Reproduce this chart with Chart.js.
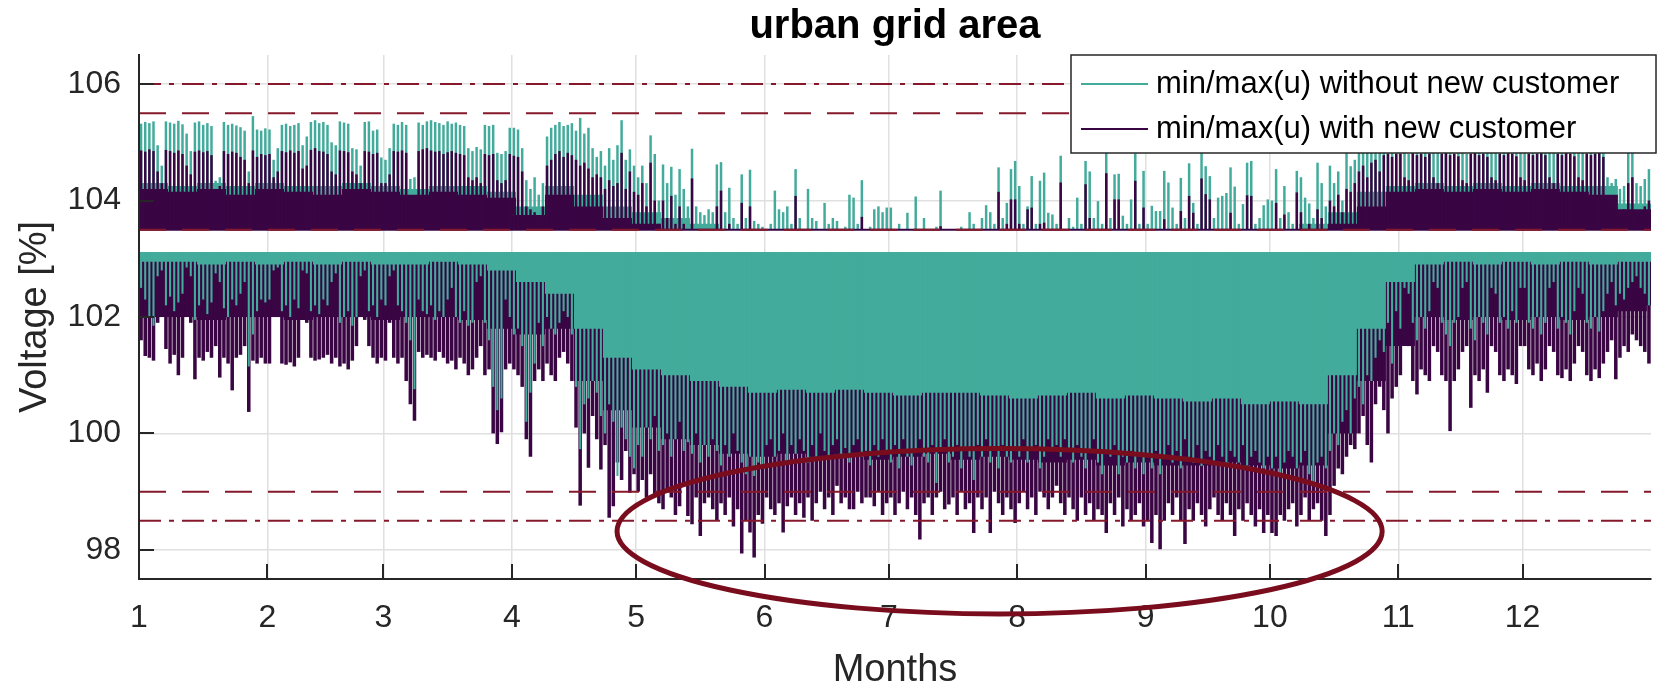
<!DOCTYPE html>
<html>
<head>
<meta charset="utf-8">
<title>urban grid area</title>
<script src="https://cdn.jsdelivr.net/npm/chart.js@4.4.1/dist/chart.umd.min.js"></script>
<style>
  html, body { margin: 0; padding: 0; background: #fff; }
  #chart { display: block; }
</style>
</head>
<body>
<canvas id="chart" width="1659" height="686"></canvas>
<script>
// x axis runs in days of the year (0..365), ticks at the first day of each month
const monthStartDays = [0, 31, 59, 90, 120, 151, 181, 212, 243, 273, 304, 334];
const monthTickLabels = ['1', '2', '3', '4', '5', '6', '7', '8', '9', '10', '11', '12'];
const voltageTicks = [98, 100, 102, 104, 106];

const seriesLabels = ['min/max(u) without new customer', 'min/max(u) with new customer'];

// night levels the daily spikes start from
const upperNightLevel = 103.5;
const lowerNightLevel = 103.1;

// voltage limits (dash-dot = hard limit, dashed = warning)
const hardLimits = [106, 98.5];
const warnLimits = [105.5, 99];
const setpointLevel = 103.5;

// daily max voltage without new customer (one value per day, Jan..Dec)
const maxWithout = [
  105.32, 105.35, 105.33, 105.36, 104.95, 104.6, 105.36, 105.34, 105.32, 105.37, 105.31, 105.15, 104.85, 105.34, 105.36, 105.3, 105.33, 105.28, 104.34, 104.4, 105.35, 105.3, 105.32, 105.29, 105.26, 105.2, 104.5, 105.45, 105.22, 105.2, 105.24,
  105.22, 104.7, 104.9, 105.3, 105.32, 105.28, 105.3, 105.33, 104.95, 105.1, 105.35, 105.38, 105.33, 105.35, 105.3, 105.0, 104.95, 105.36, 105.34, 105.32, 104.9, 104.88, 104.6, 105.35, 105.36, 105.2, 105.22, 104.74,
  104.7, 104.9, 105.32, 105.3, 105.35, 105.3, 104.37, 104.4, 105.34, 105.3, 105.36, 105.38, 105.35, 105.33, 105.3, 105.36, 105.32, 105.34, 105.3, 105.28, 104.9, 104.85, 104.92, 104.88, 105.3, 105.28, 105.3, 104.82, 104.8, 104.85, 105.25,
  105.25, 105.22, 104.9, 104.35, 104.2, 104.4, 104.1, 104.3, 105.1, 105.25, 105.3, 105.35, 105.28, 105.3, 105.33, 105.2, 105.42, 105.15, 105.25, 104.9, 104.75, 104.85, 104.6, 104.9, 104.7, 104.95, 105.38, 104.7, 104.88, 104.6,
  104.4, 104.6, 104.3, 105.12, 104.8, 104.0, 104.62, 104.3, 104.58, 104.1, 104.54, 104.2, 103.9, 104.89, 103.9, 103.8, 103.75, 103.85, 103.8, 104.62, 104.66, 103.8, 104.22, 103.7, 103.6, 104.45, 103.7, 104.53, 103.65, 103.6, 103.55,
  103.5, 103.6, 104.17, 103.85, 103.8, 103.9, 103.6, 104.54, 103.7, 103.5, 104.2, 103.7, 103.65, 103.5, 103.96, 103.6, 103.7, 103.65, 103.5, 103.55, 104.1, 104.05, 103.6, 104.35, 103.5, 103.55, 103.85, 103.9, 103.8, 103.88,
  103.88, 103.5, 103.6, 103.5, 103.79, 103.5, 104.07, 103.5, 103.7, 103.5, 103.5, 103.55, 104.17, 103.5, 103.5, 103.5, 103.5, 103.55, 103.5, 103.8, 103.6, 103.5, 103.7, 103.92, 103.8, 103.6, 104.57, 103.7, 103.96, 104.54, 104.68,
  104.25, 103.6, 103.9, 104.42, 103.6, 104.34, 104.48, 103.79, 103.76, 103.6, 104.77, 103.5, 103.7, 103.55, 104.05, 103.6, 104.68, 104.5, 103.7, 103.99, 103.6, 104.82, 103.7, 104.45, 104.46, 103.74, 103.6, 104.02, 104.81, 103.6, 104.51,
  103.6, 103.91, 103.82, 103.82, 104.51, 104.31, 103.88, 103.6, 104.39, 103.7, 104.64, 103.96, 103.6, 104.82, 104.59, 104.42, 103.7, 104.05, 104.08, 104.13, 104.57, 104.24, 103.6, 103.94, 104.65, 104.68, 103.6, 103.7, 103.92, 104.02,
  104.0, 104.54, 103.7, 104.25, 103.8, 103.6, 104.51, 104.4, 104.05, 103.95, 103.7, 104.65, 104.3, 103.9, 104.6, 104.3, 104.5, 104.0, 104.82, 104.59, 104.7, 104.95, 105.1, 104.9, 105.2, 105.25, 105.0, 105.3, 105.32, 105.28, 105.3,
  105.3, 104.9, 104.8, 105.32, 105.3, 105.35, 105.28, 105.3, 104.9, 104.85, 105.3, 105.33, 105.3, 105.35, 105.3, 104.95, 104.8, 105.3, 105.32, 105.28, 105.3, 105.35, 104.9, 104.85, 105.3, 105.33, 105.3, 105.28, 105.3, 104.9,
  104.85, 105.3, 105.32, 105.3, 105.35, 105.3, 104.9, 104.85, 105.3, 105.32, 105.3, 105.28, 105.3, 104.9, 104.85, 105.3, 105.33, 105.3, 105.3, 105.28, 104.4, 104.3, 104.37, 104.2, 104.25, 104.9, 105.0, 104.3, 104.25, 104.37, 104.54
];

// daily max voltage with new customer
const maxWith = [
  104.86, 104.84, 104.88, 104.85, 104.5, 104.3, 104.87, 104.85, 104.82, 104.86, 104.8, 104.6, 104.45, 104.84, 104.86, 104.83, 104.85, 104.78, 104.2, 104.25, 104.85, 104.8, 104.84, 104.82, 104.75, 104.7, 104.3, 104.86, 104.75, 104.8, 104.78,
  104.8, 104.4, 104.5, 104.85, 104.83, 104.86, 104.82, 104.85, 104.55, 104.6, 104.87, 104.9, 104.85, 104.84, 104.8, 104.5, 104.45, 104.86, 104.85, 104.83, 104.5, 104.45, 104.3, 104.85, 104.84, 104.8, 104.82, 104.3,
  104.3, 104.45, 104.85, 104.84, 104.86, 104.82, 104.0, 103.95, 104.85, 104.88, 104.9, 104.86, 104.84, 104.85, 104.8, 104.83, 104.85, 104.82, 104.8, 104.78, 104.4, 104.35, 104.4, 104.3, 104.8, 104.78, 104.8, 104.35, 104.3, 104.35, 104.8,
  104.77, 104.75, 104.5, 103.9, 103.85, 103.8, 103.75, 103.9, 104.6, 104.7, 104.8, 104.85, 104.75, 104.82, 104.78, 104.7, 104.6, 104.65, 104.55, 104.4, 104.45, 104.4, 104.2, 104.35, 104.25, 104.3, 104.82, 104.2, 104.5, 104.15,
  104.1, 104.3, 103.9, 104.65, 104.0, 103.6, 104.0, 103.7, 104.08, 103.6, 103.9, 103.6, 103.5, 104.38, 103.5, 103.5, 103.5, 103.5, 103.5, 103.9, 104.17, 103.5, 103.6, 103.5, 103.5, 103.96, 103.5, 103.9, 103.5, 103.5, 103.5,
  103.5, 103.5, 103.5, 103.5, 103.5, 103.5, 103.5, 104.08, 103.5, 103.5, 103.5, 103.5, 103.5, 103.5, 103.5, 103.5, 103.5, 103.5, 103.5, 103.5, 103.5, 103.5, 103.5, 103.72, 103.5, 103.5, 103.5, 103.5, 103.5, 103.5,
  103.5, 103.5, 103.5, 103.5, 103.5, 103.5, 103.5, 103.5, 103.5, 103.5, 103.5, 103.5, 103.56, 103.5, 103.5, 103.5, 103.5, 103.5, 103.5, 103.5, 103.5, 103.5, 103.5, 103.5, 103.5, 103.5, 104.15, 103.5, 103.6, 104.02, 104.02,
  103.6, 103.5, 103.85, 103.88, 103.5, 103.6, 103.62, 103.5, 103.5, 103.5, 104.31, 103.5, 103.5, 103.5, 103.5, 103.5, 104.28, 103.7, 103.5, 103.5, 103.5, 104.47, 103.5, 104.02, 104.02, 103.5, 103.5, 103.5, 104.34, 103.5, 103.88,
  103.5, 103.5, 103.5, 103.5, 103.68, 103.5, 103.5, 103.5, 103.82, 103.5, 104.08, 103.79, 103.5, 104.38, 104.11, 104.02, 103.5, 103.5, 103.5, 103.5, 103.79, 103.5, 103.5, 103.5, 104.09, 104.08, 103.5, 103.5, 103.5, 103.5,
  103.5, 103.96, 103.5, 103.76, 103.5, 103.5, 104.14, 103.8, 103.5, 103.6, 103.5, 103.85, 103.7, 103.5, 104.0, 103.9, 104.1, 103.8, 104.2, 104.15, 104.3, 104.5, 104.6, 104.4, 104.65, 104.7, 104.5, 104.78, 104.8, 104.75, 104.8,
  104.8, 104.4, 104.35, 104.82, 104.78, 104.8, 104.75, 104.8, 104.4, 104.3, 104.8, 104.82, 104.78, 104.8, 104.76, 104.35, 104.3, 104.8, 104.82, 104.78, 104.8, 104.75, 104.4, 104.35, 104.8, 104.78, 104.82, 104.8, 104.76, 104.4,
  104.35, 104.8, 104.78, 104.8, 104.82, 104.78, 104.4, 104.3, 104.8, 104.78, 104.82, 104.8, 104.76, 104.4, 104.35, 104.8, 104.78, 104.8, 104.82, 104.75, 103.9, 103.8, 104.0, 103.7, 103.85, 104.3, 104.4, 103.8, 103.75, 103.9, 104.0
];

// daily min voltage without new customer
const minWithout = [
  102.5, 102.3, 102.0, 101.85, 102.7, 102.8, 102.2, 102.35, 102.1, 102.25, 102.4, 102.85, 102.7, 101.95, 102.2, 102.3, 102.05, 102.25, 102.75, 102.6, 102.15, 102.0, 102.3, 102.2, 102.4, 102.6, 101.15, 101.7, 102.1, 102.3, 102.25,
  102.3, 102.8, 102.85, 102.1, 102.2, 102.0, 102.3, 102.15, 102.8, 102.75, 102.1, 102.2, 102.05, 102.3, 102.2, 102.6, 102.75, 101.9, 102.0, 102.1, 101.85, 102.0, 102.7, 102.8, 102.1, 102.2, 102.0, 102.3,
  102.2, 102.7, 102.8, 102.2, 102.1, 101.9, 101.6, 100.76, 102.3, 102.1, 102.05, 102.2, 101.95, 102.1, 102.0, 102.3, 102.5, 102.0, 101.9, 102.1, 101.85, 101.9, 102.6, 102.7, 101.9, 101.6, 100.8, 100.4, 100.6, 102.3, 102.0,
  101.7, 101.8, 101.5, 100.2, 100.7, 101.2, 101.9, 101.5, 102.0, 101.8, 101.7, 101.9, 102.1, 102.0, 101.7, 100.8, 99.73, 100.5, 100.6, 100.9, 100.7, 100.3, 100.0, 100.5, 100.2, 99.27, 100.1, 99.9, 99.6, 99.4,
  99.8, 99.6, 100.1, 99.9, 100.3, 99.7, 99.8, 100.0, 99.6, 99.9, 100.2, 99.7, 99.85, 99.65, 100.0, 99.5, 99.8, 99.6, 99.9, 99.7, 99.45, 99.8, 99.6, 100.0, 99.7, 99.5, 99.3, 99.6, 99.27, 99.5, 99.4,
  99.8, 99.9, 99.6, 99.7, 100.0, 99.5, 99.8, 99.65, 99.9, 99.7, 99.5, 99.8, 99.6, 100.0, 99.7, 99.55, 99.8, 99.9, 99.6, 99.75, 99.5, 99.8, 99.9, 99.6, 99.7, 99.45, 99.8, 99.6, 99.9, 99.7,
  99.5, 99.8, 99.4, 99.9, 99.6, 99.45, 99.7, 99.9, 99.6, 99.5, 99.8, 99.15, 99.7, 99.9, 99.5, 99.6, 99.8, 99.4, 99.7, 99.6, 99.2, 99.8, 99.6, 99.9, 99.5, 99.7, 99.4, 99.8, 99.6, 99.5, 99.7,
  99.6, 99.9, 99.5, 99.7, 99.8, 99.4, 99.6, 99.9, 99.7, 99.8, 99.6, 99.9, 99.7, 99.5, 99.8, 99.6, 99.4, 99.7, 99.9, 99.5, 99.3, 99.7, 99.6, 99.8, 99.3, 99.6, 99.5, 99.7, 99.4, 99.6, 99.3,
  99.6, 99.4, 99.7, 99.3, 99.6, 99.8, 99.5, 99.7, 99.4, 99.9, 99.6, 99.5, 99.8, 99.44, 99.7, 99.6, 99.5, 99.8, 99.6, 99.45, 99.7, 99.6, 99.5, 99.8, 99.45, 99.6, 99.7, 99.5, 99.4, 99.6,
  99.4, 99.6, 99.3, 99.5, 99.7, 99.6, 99.4, 99.5, 99.7, 99.3, 99.1, 99.5, 99.6, 99.4, 99.7, 100.0, 99.8, 100.2, 100.4, 100.0, 100.6, 100.8, 100.5, 101.0, 100.9, 101.3, 101.6, 101.4, 101.9, 101.2, 102.1,
  101.8, 102.5, 102.4, 101.9, 101.6, 102.0, 101.8, 102.1, 102.6, 102.5, 101.9, 101.7, 101.5, 101.9, 102.0, 102.5, 102.6, 101.8, 101.6, 102.0, 101.9, 101.7, 102.5, 102.4, 101.9, 102.0, 101.8, 102.1, 101.9, 102.5,
  102.5, 101.9, 101.8, 102.0, 101.7, 101.9, 102.5, 102.6, 101.8, 102.0, 101.9, 101.7, 102.1, 102.5, 102.4, 101.9, 101.8, 102.0, 101.75, 102.1, 102.4, 102.6, 102.2, 102.4, 102.3, 102.5, 102.6, 102.7, 102.5, 102.4, 102.2
];

// daily min voltage with new customer
const minWith = [
  101.6, 101.33, 101.3, 101.25, 101.9, 102.1, 101.45, 101.2, 101.35, 101.0, 101.3, 102.0, 101.9, 100.93, 101.3, 101.25, 101.4, 101.3, 101.5, 100.96, 101.3, 101.2, 100.74, 101.3, 101.35, 101.5, 100.37, 101.25, 101.2, 101.3, 101.2,
  101.2, 102.1, 102.0, 101.2, 101.18, 101.22, 101.15, 101.3, 102.05, 101.9, 101.3, 101.25, 101.27, 101.3, 101.35, 101.2, 101.3, 101.15, 101.2, 101.1, 101.25, 101.5, 102.0, 101.95, 101.5, 101.3, 101.2, 101.3,
  101.25, 101.9, 101.3, 101.2, 101.3, 100.9, 100.5, 100.22, 101.4, 101.3, 101.35, 101.3, 101.25, 101.4, 101.3, 101.2, 101.25, 101.1, 101.3, 101.2, 101.0, 101.1, 101.3, 101.5, 101.0, 101.1, 100.0, 99.82, 100.02, 101.1, 101.2,
  101.1, 101.0, 100.8, 99.9, 99.6, 100.9, 101.1, 100.9, 101.2, 101.0, 100.9, 101.3, 101.4, 101.2, 100.9, 100.1, 98.76, 100.0, 99.41, 100.3, 99.9, 99.38, 99.8, 98.55, 98.75, 99.5, 99.2, 99.7, 98.98, 99.3,
  99.0, 99.2, 98.9, 99.3, 98.95, 98.8, 98.7, 99.0, 98.9, 98.6, 98.75, 99.1, 98.58, 98.44, 98.9, 98.24, 98.8, 98.9, 98.7, 98.5, 98.8, 98.6, 98.9, 98.4, 98.7, 97.94, 98.5, 98.3, 97.87, 98.6, 98.45,
  98.9, 98.7, 98.6, 98.8, 98.3, 98.75, 98.9, 98.6, 98.8, 98.55, 98.9, 98.5, 98.8, 99.0, 98.7, 98.9, 98.6, 99.1, 98.8, 98.9, 98.7, 98.7, 99.0, 98.8, 98.9, 98.9, 98.75, 99.0, 98.6, 98.8,
  98.9, 98.6, 98.8, 99.0, 98.7, 98.9, 98.6, 98.18, 98.8, 98.9, 98.6, 98.9, 99.0, 98.7, 98.78, 98.9, 98.6, 99.0, 98.7, 98.8, 98.29, 98.9, 98.7, 98.9, 98.29, 99.0, 98.8, 98.6, 98.9, 98.7, 98.46,
  98.8, 99.0, 98.7, 98.9, 98.6, 99.0, 98.9, 98.7, 98.9, 99.1, 98.8, 98.6, 98.9, 98.7, 98.5, 98.9, 98.6, 98.8, 98.5, 98.7, 98.6, 98.29, 98.8, 98.6, 98.9, 98.4, 98.7, 98.5, 98.6, 98.8, 98.4,
  98.5, 98.12, 98.6, 98.01, 98.5, 98.8, 98.6, 98.9, 98.5, 98.1, 98.7, 98.5, 98.8, 98.6, 98.4, 98.7, 98.9, 98.6, 98.5, 98.8, 98.6, 98.24, 98.7, 98.5, 98.8, 98.6, 98.4, 98.7, 98.29, 98.6,
  98.29, 98.24, 98.6, 98.5, 98.7, 98.8, 98.4, 98.6, 98.9, 98.5, 98.7, 98.8, 98.5, 98.24, 98.6, 99.1, 99.4, 99.3, 99.6, 99.8, 99.73, 100.0, 100.3, 99.8, 99.5, 100.5, 100.8, 100.4, 100.0, 100.6, 100.8,
  101.0, 101.6, 101.5, 100.9, 100.67, 101.1, 101.0, 100.9, 101.5, 101.4, 101.0, 100.9, 100.04, 100.9, 101.1, 101.4, 101.5, 100.44, 101.0, 100.9, 101.1, 100.7, 101.5, 101.4, 101.0, 100.9, 101.1, 101.0, 100.85, 101.5,
  101.5, 101.1, 101.0, 101.2, 100.9, 101.1, 101.5, 101.4, 101.0, 100.95, 101.1, 100.9, 101.2, 101.5, 101.4, 101.0, 100.9, 101.1, 100.95, 101.2, 101.4, 101.6, 100.93, 101.3, 101.5, 101.4, 101.7, 101.6, 101.5, 101.4, 101.2
];

// weekly level the bands are densely filled to (week k = days 7k..7k+6)
const coreMaxWithout = [
  104.3, 104.25, 104.3, 104.25, 104.3, 104.25, 104.25, 104.3, 104.25, 104.2, 104.25, 104.25, 104.15,
  103.9, 104.25, 104.1, 103.9, 103.8, 103.7, 103.6,
  103.5, 103.5, 103.5, 103.5, 103.5, 103.5, 103.5, 103.5, 103.5, 103.5, 103.5, 103.5, 103.5, 103.5, 103.5, 103.5, 103.5, 103.5, 103.5, 103.5,
  103.6, 103.8, 104.15, 104.25,
  104.3, 104.25, 104.3, 104.25, 104.3, 104.25, 104.25, 103.95, 103.95
];
const coreMaxWith = [
  104.2, 104.15, 104.2, 104.1, 104.2, 104.15, 104.1, 104.2, 104.15, 104.1, 104.15, 104.1, 104.05,
  103.75, 104.1, 103.9, 103.7, 103.6,
  103.5, 103.5, 103.5, 103.5, 103.5, 103.5, 103.5, 103.5, 103.5, 103.5, 103.5, 103.5, 103.5, 103.5, 103.5, 103.5, 103.5, 103.5, 103.5, 103.5, 103.5, 103.5, 103.5,
  103.6, 103.9, 104.15,
  104.2, 104.15, 104.2, 104.15, 104.2, 104.15, 104.1, 103.85, 103.85
];
const coreMinWithout = [
  102.95, 102.95, 102.9, 102.95, 102.9, 102.95, 102.9, 102.95, 102.9, 102.9, 102.95, 102.9,
  102.8, 102.6, 102.4, 101.8, 101.3, 101.1, 101.0, 100.9,
  100.8, 100.7, 100.75, 100.7, 100.75, 100.7, 100.65, 100.7, 100.7, 100.65, 100.6, 100.65, 100.7, 100.6, 100.65, 100.6, 100.55, 100.6, 100.5, 100.55, 100.5,
  101.0, 101.8, 102.6,
  102.9, 102.95, 102.9, 102.95, 102.9, 102.95, 102.9, 102.95, 102.95
];
const coreMinWith = [
  102.0, 102.0, 101.95, 102.0, 102.0, 101.95, 102.0, 102.0, 101.95, 102.0, 102.0, 101.95,
  101.8, 101.7, 101.8, 100.9, 100.4, 100.1, 99.9, 99.8,
  99.65, 99.6, 99.65, 99.6, 99.65, 99.55, 99.6, 99.65, 99.55, 99.6, 99.55, 99.5, 99.55, 99.45, 99.5, 99.45, 99.45, 99.5, 99.45, 99.4, 99.45,
  100.0, 100.9, 101.5,
  102.0, 101.95, 102.0, 101.95, 102.0, 101.95, 102.0, 102.1, 102.2
];

// highlighted region (ellipse), in data units
const highlight = { day: 207.75, voltage: 98.32, halfDays: 92.35, halfVoltage: 1.42 };

[maxWithout, maxWith, minWithout, minWith].forEach((a, i) => {
  if (a.length !== 365) throw new Error('daily series ' + i + ' has ' + a.length + ' values');
});
[coreMaxWithout, coreMaxWith, coreMinWithout, coreMinWith].forEach((a, i) => {
  if (a.length !== 53) throw new Error('weekly series ' + i + ' has ' + a.length + ' values');
});

const FONT = "'Liberation Sans', Arial, Helvetica, sans-serif";
const AXIS_COLOR = '#262626';
const TEAL = '#43ab9b';
const PURPLE = '#3a0543';
const LIMIT_RED = '#86182b';
const RING_RED = '#7a0d1d';
const DASHED = [27, 16];
const DASH_DOT = [22, 8, 5, 8];

Chart.defaults.font.family = FONT;
Chart.defaults.color = AXIS_COLOR;

function spikes(values, base) {
  return values.map((v, i) => ({ x: i + 0.5, y: [base, v] }));
}

function weekly(values) {
  const pts = values.map((v, k) => ({ x: k * 7, y: v }));
  pts.push({ x: 365, y: values[values.length - 1] });
  return pts;
}

function hline(level) {
  return [{ x: 0, y: level }, { x: 365, y: level }];
}

function coreSet(values, base, color, order) {
  return {
    type: 'line', data: weekly(values), stepped: true,
    fill: { value: base }, backgroundColor: color,
    borderWidth: 0, pointRadius: 0, order: order
  };
}

function spikeSet(values, base, color, width, order) {
  return {
    type: 'bar', data: spikes(values, base), backgroundColor: color,
    borderWidth: 0, grouped: false, categoryPercentage: 1, barPercentage: width,
    order: order
  };
}

function lineSet(level, color, dash, order) {
  return {
    type: 'line', data: hline(level), borderColor: color, borderWidth: 2,
    borderDash: dash, pointRadius: 0, fill: false, order: order
  };
}

const overlay = {
  id: 'overlay',
  afterDraw(chart) {
    const { ctx, chartArea: a } = chart;
    const x = chart.scales.x, y = chart.scales.y;
    ctx.save();

    // inward tick marks
    ctx.strokeStyle = AXIS_COLOR;
    ctx.lineWidth = 2;
    ctx.beginPath();
    x.ticks.forEach(t => {
      const px = Math.round(x.getPixelForValue(t.value));
      ctx.moveTo(px, a.bottom);
      ctx.lineTo(px, a.bottom - 15);
    });
    y.ticks.forEach(t => {
      const py = Math.round(y.getPixelForValue(t.value));
      ctx.moveTo(a.left, py);
      ctx.lineTo(a.left + 15, py);
    });
    ctx.stroke();

    // highlight ellipse
    const cx = x.getPixelForValue(highlight.day);
    const cy = y.getPixelForValue(highlight.voltage);
    const rx = x.getPixelForValue(highlight.day + highlight.halfDays) - cx;
    const ry = cy - y.getPixelForValue(highlight.voltage + highlight.halfVoltage);
    ctx.beginPath();
    ctx.ellipse(cx, cy, rx, ry, 0, 0, Math.PI * 2);
    ctx.lineWidth = 5;
    ctx.strokeStyle = RING_RED;
    ctx.stroke();

    // legend box in the upper right corner
    const lw = 585, lh = 98;
    const lx = a.right + 5 - lw, ly = a.top;
    ctx.fillStyle = '#fff';
    ctx.fillRect(lx, ly, lw, lh);
    ctx.lineWidth = 1.5;
    ctx.strokeStyle = AXIS_COLOR;
    ctx.strokeRect(lx, ly, lw, lh);
    const colors = [TEAL, PURPLE];
    ctx.font = '31px ' + FONT;
    ctx.textBaseline = 'middle';
    ctx.textAlign = 'left';
    seriesLabels.forEach((label, i) => {
      const rowY = ly + 29 + i * 45;
      ctx.beginPath();
      ctx.moveTo(lx + 10, rowY);
      ctx.lineTo(lx + 77, rowY);
      ctx.strokeStyle = colors[i];
      ctx.lineWidth = 2;
      ctx.stroke();
      ctx.fillStyle = '#000';
      ctx.fillText(label, lx + 85, rowY);
    });

    ctx.restore();
  }
};

new Chart(document.getElementById('chart'), {
  type: 'bar',
  data: {
    datasets: [
      coreSet(coreMaxWithout, upperNightLevel, TEAL, 40),
      spikeSet(maxWithout, upperNightLevel, TEAL, 0.6, 39),
      coreSet(coreMaxWith, upperNightLevel, PURPLE, 38),
      spikeSet(maxWith, upperNightLevel, PURPLE, 0.6, 37),
      coreSet(coreMinWith, lowerNightLevel, PURPLE, 36),
      spikeSet(minWith, lowerNightLevel, PURPLE, 0.85, 35),
      coreSet(coreMinWithout, lowerNightLevel, TEAL, 34),
      spikeSet(minWithout, lowerNightLevel, TEAL, 0.5, 33),
      lineSet(upperNightLevel, PURPLE, [], 20),
      lineSet(lowerNightLevel, TEAL, [], 19),
      lineSet(setpointLevel, LIMIT_RED, DASHED, 10),
      lineSet(warnLimits[0], LIMIT_RED, DASHED, 9),
      lineSet(warnLimits[1], LIMIT_RED, DASHED, 8),
      lineSet(hardLimits[0], LIMIT_RED, DASH_DOT, 7),
      lineSet(hardLimits[1], LIMIT_RED, DASH_DOT, 6)
    ]
  },
  options: {
    responsive: false,
    animation: false,
    devicePixelRatio: 1,
    events: [],
    layout: { padding: { left: 0, right: 8, top: 0, bottom: 0 } },
    plugins: {
      legend: { display: false },
      tooltip: { enabled: false },
      title: {
        display: true,
        fullSize: false,
        text: 'urban grid area',
        color: '#000',
        font: { size: 40, weight: 'bold', lineHeight: 1.2 },
        padding: { top: 3, bottom: 4 }
      }
    },
    scales: {
      x: {
        type: 'linear',
        min: 0,
        max: 365,
        offset: false,
        afterFit: s => { s.height = 107; },
        afterBuildTicks: s => { s.ticks = monthStartDays.map(v => ({ value: v })); },
        ticks: {
          autoSkip: false,
          maxRotation: 0,
          padding: 20,
          font: { size: 32 },
          color: AXIS_COLOR,
          callback: (v, i) => monthTickLabels[i]
        },
        grid: { offset: false, color: '#e0e0e0', lineWidth: 1.5, drawTicks: false },
        border: { display: true, color: AXIS_COLOR, width: 2, z: 1 },
        title: {
          display: true,
          text: 'Months',
          color: AXIS_COLOR,
          font: { size: 38, lineHeight: 0.84 },
          padding: 0
        }
      },
      y: {
        type: 'linear',
        min: 97.5,
        max: 106.5,
        afterFit: s => { s.width = 139; },
        afterBuildTicks: s => { s.ticks = voltageTicks.map(v => ({ value: v })); },
        ticks: {
          padding: 18,
          font: { size: 32 },
          color: AXIS_COLOR,
          callback: v => String(v)
        },
        grid: { color: '#e0e0e0', lineWidth: 1.5, drawTicks: false },
        border: { display: true, color: AXIS_COLOR, width: 2, z: 1 },
        title: {
          display: true,
          text: 'Voltage [%]',
          color: AXIS_COLOR,
          font: { size: 38, lineHeight: 1 },
          padding: { top: 17, bottom: 0 }
        }
      }
    }
  },
  plugins: [overlay]
});
</script>
</body>
</html>
